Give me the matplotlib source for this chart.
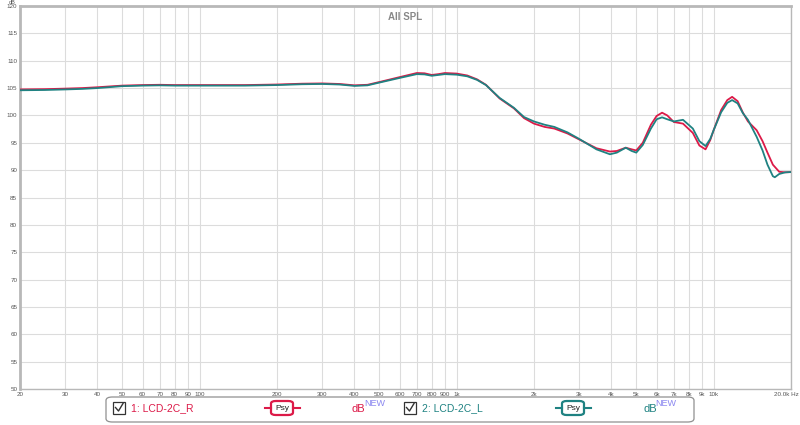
import matplotlib.pyplot as plt
from matplotlib.patches import FancyBboxPatch, Rectangle
from matplotlib.lines import Line2D
from matplotlib.transforms import ScaledTranslation

plt.rcParams['font.family'] = ['Liberation Sans', 'DejaVu Sans']

# frequency response (Hz, dB SPL)
freq_r = [20, 25, 30, 35, 40, 50, 60, 70, 80, 100, 150, 200, 250, 300, 350, 400, 450,
          500, 600, 700, 750, 800, 850, 900, 1000, 1100, 1200, 1300, 1470, 1670, 1830,
          2000, 2200, 2400, 2700, 3000, 3500, 3950, 4200, 4550, 4800, 5000, 5300, 5700,
          6000, 6300, 6600, 7000, 7600, 8300, 8800, 9300, 9700, 10000, 10700, 11300,
          11800, 12400, 13000, 13600, 14700, 15500, 16200, 17000, 18000, 19000, 20000]
spl_r = [104.75, 104.8, 104.9, 105.0, 105.15, 105.45, 105.55, 105.6, 105.55, 105.55,
         105.55, 105.65, 105.8, 105.85, 105.75, 105.5, 105.6, 106.1, 107.0, 107.75,
         107.7, 107.4, 107.55, 107.75, 107.65, 107.3, 106.6, 105.6, 103.1, 101.3, 99.5,
         98.5, 97.9, 97.6, 96.7, 95.6, 94.0, 93.4, 93.5, 94.1, 93.8, 93.6, 95.0, 98.3,
         99.9, 100.5, 100.0, 98.8, 98.5, 96.8, 94.5, 93.8, 95.5, 97.3, 101.0, 102.8,
         103.4, 102.6, 100.5, 98.9, 97.3, 95.3, 93.2, 91.0, 89.7, 89.6, 89.65]

freq_l = [20, 25, 30, 35, 40, 50, 60, 70, 80, 100, 150, 200, 250, 300, 350, 400, 450,
          500, 600, 700, 750, 800, 850, 900, 1000, 1100, 1200, 1300, 1470, 1670, 1830,
          2000, 2200, 2400, 2700, 3000, 3500, 3950, 4200, 4550, 4800, 5000, 5300, 5700,
          6000, 6300, 6600, 7000, 7600, 8300, 8800, 9300, 9700, 10000, 10700, 11300,
          11800, 12400, 13000, 13600, 14700, 15500, 16200, 17000, 17300, 18000, 19000, 20000]
spl_l = [104.6, 104.65, 104.75, 104.85, 105.0, 105.35, 105.45, 105.5, 105.45, 105.45,
         105.45, 105.55, 105.7, 105.75, 105.65, 105.4, 105.5, 106.0, 106.85, 107.55,
         107.5, 107.25, 107.4, 107.55, 107.45, 107.15, 106.5, 105.55, 103.2, 101.4, 99.7,
         98.9, 98.3, 97.9, 96.9, 95.7, 93.8, 92.9, 93.2, 94.1, 93.5, 93.2, 94.6, 97.6,
         99.3, 99.65, 99.3, 98.9, 99.2, 97.6, 95.3, 94.4, 95.7, 97.3, 100.6, 102.3,
         102.8, 102.2, 100.4, 99.2, 96.1, 93.6, 91.0, 88.9, 88.7, 89.3, 89.6, 89.65]

x_ticks = [20, 30, 40, 50, 60, 70, 80, 90, 100, 200, 300, 400, 500, 600, 700, 800, 900,
           1000, 2000, 3000, 4000, 5000, 6000, 7000, 8000, 9000, 10000, 20000]
x_labels = ['20', '30', '40', '50', '60', '70', '80', '90', '100', '200', '300', '400',
            '500', '600', '700', '800', '900', '1k', '2k', '3k', '4k', '5k', '6k', '7k',
            '8k', '9k', '10k', '20.0k Hz']
y_ticks = list(range(50, 121, 5))

red = '#dc1a48'
teal = '#1f8282'
new_blue = '#8a86f0'

fig = plt.figure(figsize=(8, 4.25), dpi=100)
ax = fig.add_axes([20 / 800, 1 - 389 / 425, 771 / 800, 383 / 425])

ax.plot(freq_r, spl_r, color=red, lw=1.3, zorder=3)
ax.plot(freq_l, spl_l, color=teal, lw=1.3, zorder=4)

ax.set_xscale('log')
ax.set_xlim(20, 20000)
ax.set_ylim(50, 120)
ax.set_xticks(x_ticks)
ax.set_xticklabels(x_labels)
ax.xaxis.set_minor_locator(plt.NullLocator())
ax.set_yticks(y_ticks)
ax.grid(True, color='#dcdcdc', lw=0.8)
ax.tick_params(length=0, labelsize=4.5, labelcolor='#555555', pad=2)
last = ax.get_xticklabels()[-1]
last.set_horizontalalignment('right')
last.set_transform(last.get_transform() + ScaledTranslation(8 / 100, 0, fig.dpi_scale_trans))
for side, sp in ax.spines.items():
    sp.set_color('#b8b8b8')
    sp.set_linewidth(1.0 if side in ('bottom', 'right') else 2.0)

ax.text(0.5, 0.985, 'All SPL', transform=ax.transAxes, ha='center', va='top',
        fontsize=7, fontweight='bold', color='#888888')
fig.text(12 / 800, 1 - 3 / 425, 'dB', fontsize=4, color='#555555', ha='center', va='center')

# legend strip at the bottom
def fx(px):
    return px / 800


def fy(py):
    return 1 - py / 425


fig.patches.append(FancyBboxPatch((fx(106), fy(422)), fx(588), 25 / 425,
                                  boxstyle='round,pad=0,rounding_size=0.008',
                                  transform=fig.transFigure, fill=False,
                                  ec='#909090', lw=0.9))

entries = [('1: LCD-2C_R', red, 0), ('2: LCD-2C_L', teal, 291)]
for label, color, dx in entries:
    fig.patches.append(Rectangle((fx(113 + dx), fy(414)), 12 / 800, 12 / 425,
                                 transform=fig.transFigure, fill=False, ec='#333333', lw=0.9))
    fig.lines.append(Line2D([fx(115.5 + dx), fx(118.5 + dx), fx(123 + dx)],
                            [fy(407.5), fy(411), fy(403.5)],
                            transform=fig.transFigure, color='#333333', lw=1.0))
    fig.text(fx(131 + dx), fy(408), label, color=color, fontsize=7.5, va='center', ha='left')
    fig.lines.append(Line2D([fx(265 + dx), fx(271 + dx)], [fy(408), fy(408)],
                            transform=fig.transFigure, color=color, lw=1.5))
    fig.lines.append(Line2D([fx(293 + dx), fx(300 + dx)], [fy(408), fy(408)],
                            transform=fig.transFigure, color=color, lw=1.5))
    fig.patches.append(FancyBboxPatch((fx(271 + dx), fy(415)), 22 / 800, 14 / 425,
                                      boxstyle='round,pad=0,rounding_size=0.006',
                                      transform=fig.transFigure, fc='white', ec=color, lw=1.6))
    fig.text(fx(282 + dx), fy(408.5), 'Psy', color='#222222', fontsize=6, ha='center', va='center')
    fig.text(fx(352 + dx), fy(409), 'dB', color=color, fontsize=8, ha='left', va='center')
    fig.text(fx(364.5 + dx), fy(404), 'NEW', color=new_blue, fontsize=6.5, ha='left', va='center')

fig.savefig('out.png', dpi=100, facecolor='white')
